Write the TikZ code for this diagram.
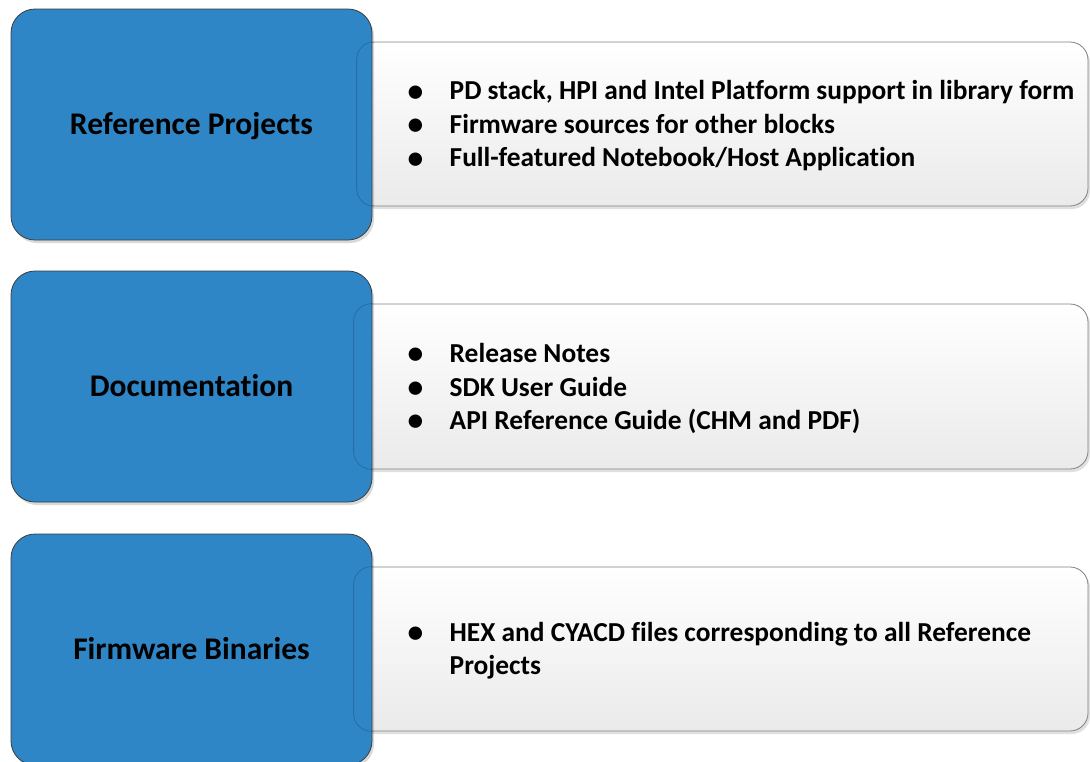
\documentclass[tikz,border=0pt]{standalone}
\usepackage{fontspec}
\setmainfont{Carlito}[Ligatures=NoCommon]
\usetikzlibrary{shadows}

\definecolor{tileblue}{RGB}{46,134,199}
\definecolor{tileedge}{RGB}{60,60,60}
\definecolor{cardedge}{RGB}{128,128,128}
\definecolor{cardbottom}{RGB}{234,234,234}

\tikzset{
  tile/.style={rounded corners=24pt, fill=tileblue, draw=tileedge, line width=0.8pt,
    minimum width=361pt, minimum height=231pt, inner sep=0pt,
    text height=22pt, text depth=3pt,
    font=\bfseries\fontsize{31.5}{38}\selectfont, text=black,
    drop shadow={shadow xshift=2pt, shadow yshift=-3pt, opacity=0.15, fill=black}},
  card/.style={rounded corners=18pt, draw=cardedge, line width=0.8pt,
    top color=white, bottom color=cardbottom, inner sep=0pt,
    drop shadow={shadow xshift=2pt, shadow yshift=-3pt, opacity=0.12, fill=black}},
  items/.style={anchor=west, align=left, inner sep=0pt,
    font=\bfseries\fontsize{27.4}{33.5}\selectfont},
  seam/.style={draw=black, opacity=0.18, line width=0.8pt, rounded corners=18pt}
}
\newcommand{\itm}{\makebox[42pt][l]{\raisebox{-0.05em}{\scalebox{1.15}{\textbullet}}}}
\newcommand{\cont}{\hspace*{42pt}}

\begin{document}
\begin{tikzpicture}[x=1pt, y=-1pt]
\useasboundingbox (0,0) rectangle (1090,761);

% detail cards (behind the tiles)
\node[card, minimum width=731pt, minimum height=164pt] (c1) at (722.5,124) {};
\node[card, minimum width=734pt, minimum height=165pt] (c2) at (721,386.5) {};
\node[card, minimum width=734pt, minimum height=164pt] (c3) at (721,649) {};

% category tiles
\node[tile] (t1) at (191.5,124.5) {Reference Projects};
\node[tile] (t2) at (191.5,386.5) {Documentation};
\node[tile] (t3) at (191.5,649.5) {Firmware Binaries};

% card outlines showing faintly through the tiles
\foreach \t/\c in {t1/c1, t2/c2, t3/c3}{
  \begin{scope}
    \clip[rounded corners=24pt] (\t.north west) rectangle (\t.south east);
    \draw[seam] (\c.north west) rectangle (\c.south east);
  \end{scope}
}

% bullet lists
\node[items] (l1) at (407.5,126) {\itm PD stack, HPI and Intel Platform support in library form\\
  \itm Firmware sources for other blocks\\
  \itm Full-featured Notebook/Host Application};
\node[items] (l2) at (407.5,388.5) {\itm Release Notes\\
  \itm SDK User Guide\\
  \itm API Reference Guide (CHM and PDF)};
\node[items] (l3) at (407.5,650.5) {\itm HEX and CYACD files corresponding to all Reference\\
  \cont Projects};
\end{tikzpicture}
\end{document}
